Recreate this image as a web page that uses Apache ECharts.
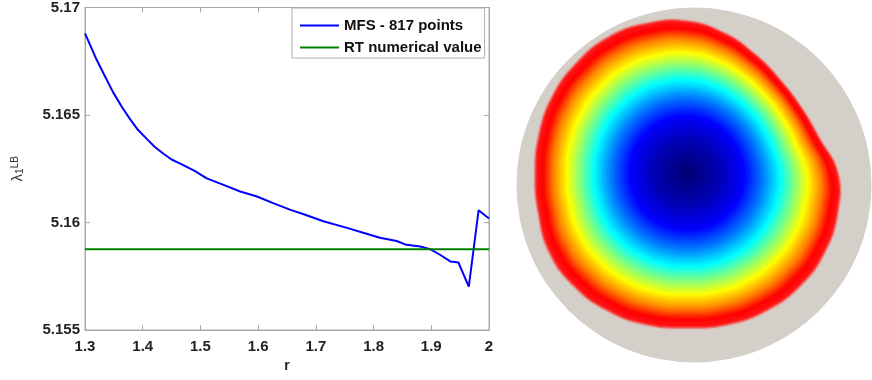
<!DOCTYPE html>
<html>
<head>
<meta charset="utf-8">
<script src="https://cdn.jsdelivr.net/npm/echarts@6/dist/echarts.min.js"></script>
<style>
  html, body { margin: 0; padding: 0; background: #fff; }
  #chart { width: 872px; height: 380px; }
</style>
</head>
<body>
<div id="chart"></div>
<script>
// left plot: lambda_1^LB against r
var rValues = [1.300, 1.309, 1.320, 1.335, 1.349, 1.364, 1.378, 1.392, 1.407, 1.421, 1.436, 1.450, 1.465, 1.490, 1.511, 1.540, 1.569, 1.598, 1.626, 1.655, 1.684, 1.713, 1.754, 1.782, 1.811, 1.840, 1.857, 1.881, 1.898, 1.915, 1.933, 1.947, 1.965, 1.982, 2.000];
var mfsValues = [5.16880, 5.16825, 5.16758, 5.16678, 5.16604, 5.16537, 5.16481, 5.16430, 5.16389, 5.16351, 5.16320, 5.16293, 5.16274, 5.16240, 5.16205, 5.16175, 5.16144, 5.16121, 5.16090, 5.16060, 5.16034, 5.16006, 5.15975, 5.15952, 5.15929, 5.15914, 5.15896, 5.15888, 5.15876, 5.15850, 5.15819, 5.15814, 5.15702, 5.16057, 5.16019];
var rtValue = 5.15876;
var seriesNames = ["MFS - 817 points", "RT numerical value"];

// right picture: outline of the coloured domain (angle in degrees, radius in px)
var boundaryAngles = [0, 15, 30, 45, 60, 75, 90, 105, 120, 135, 150, 165, 180, 195, 210, 225, 240, 255, 270, 285, 300, 315, 330, 345];
var boundaryRadii = [150, 136, 131, 131, 136, 144, 151, 154, 156, 155, 154, 152, 151, 153, 158, 159, 158, 156, 154, 156, 158, 159, 158, 155];
// colour along the radius (fraction of the outline)
var bandStops = [0, 0.22, 0.38, 0.51, 0.62, 0.71, 0.8, 0.89, 0.955, 1.0, 1.02];
var bandColors = ["#000072", "#0000b4", "#0000ff", "#0080ff", "#00ffff", "#80ff80", "#ffff00", "#ff8000", "#ff0000", "#ff1414", "#dcc0b8"];

function hexToRgb(h) {
  return [parseInt(h.substr(1, 2), 16), parseInt(h.substr(3, 2), 16), parseInt(h.substr(5, 2), 16)];
}
function colorAt(f) {
  for (var i = 1; i < bandStops.length; i++) {
    if (f <= bandStops[i]) {
      var t = (f - bandStops[i - 1]) / (bandStops[i] - bandStops[i - 1]);
      var a = hexToRgb(bandColors[i - 1]), b = hexToRgb(bandColors[i]);
      return "rgb(" + Math.round(a[0] + (b[0] - a[0]) * t) + "," + Math.round(a[1] + (b[1] - a[1]) * t) + "," + Math.round(a[2] + (b[2] - a[2]) * t) + ")";
    }
  }
  return bandColors[bandColors.length - 1];
}

var meanRadius = boundaryRadii.reduce(function (s, v) { return s + v; }, 0) / boundaryRadii.length;

// nested outlines, drawn outside in; inner ones get rounder
var levels = [];
var N = 120;
for (var i = 0; i <= N; i++) {
  levels.push(bandStops[bandStops.length - 1] * (1 - i / N));
}

var font = "Liberation Sans, Arial, sans-serif";
var mychart = echarts.init(document.getElementById("chart"));

var axisGrey = "#a8a8a8";
var option = {
  animation: false,
  grid: { left: 85, right: 383, top: 4, bottom: 50, show: true, borderColor: axisGrey, borderWidth: 1 },
  legend: {
    orient: "vertical",
    left: 292,
    top: 8,
    padding: [10, 3, 3, 8],
    itemWidth: 39,
    itemHeight: 2,
    itemGap: 7,
    borderColor: "#b0b0b0",
    borderWidth: 1,
    backgroundColor: "#fff",
    textStyle: { fontFamily: font, fontWeight: "bold", fontSize: 15, color: "#111" },
    data: [
      { name: seriesNames[0], icon: "rect" },
      { name: seriesNames[1], icon: "rect" }
    ]
  },
  xAxis: [
    {
      type: "value",
      min: 1.3,
      max: 2,
      interval: 0.1,
      name: "r",
      nameLocation: "middle",
      nameGap: 27,
      nameTextStyle: { fontFamily: font, fontSize: 14, fontWeight: "bold", color: "#222" },
      axisLine: { lineStyle: { color: axisGrey } },
      axisTick: { inside: true, length: 5, lineStyle: { color: axisGrey } },
      axisLabel: {
        margin: 9,
        fontFamily: font,
        fontWeight: "bold",
        fontSize: 15,
        color: "#222",
        formatter: function (v) { return String(+v.toFixed(1)); }
      },
      splitLine: { show: false }
    },
    {
      type: "value",
      position: "top",
      min: 1.3,
      max: 2,
      interval: 0.1,
      axisLine: { lineStyle: { color: axisGrey } },
      axisTick: { inside: true, length: 5, lineStyle: { color: axisGrey } },
      axisLabel: { show: false },
      splitLine: { show: false }
    }
  ],
  yAxis: [
    {
      type: "value",
      min: 5.155,
      max: 5.17,
      interval: 0.005,
      name: "{a|λ}{b|1}{c|LB}",
      nameLocation: "middle",
      nameGap: 60,
      nameTextStyle: {
        color: "#333",
        rich: {
          a: { fontFamily: font, fontSize: 15, color: "#333" },
          b: { fontFamily: font, fontSize: 10, color: "#333", verticalAlign: "bottom" },
          c: { fontFamily: font, fontSize: 10, color: "#333", verticalAlign: "top" }
        }
      },
      axisLine: { show: true, lineStyle: { color: axisGrey } },
      axisTick: { show: true, inside: true, length: 5, lineStyle: { color: axisGrey } },
      axisLabel: {
        margin: 5,
        fontFamily: font,
        fontWeight: "bold",
        fontSize: 15,
        color: "#222",
        formatter: function (v) { return String(+v.toFixed(3)); }
      },
      splitLine: { show: false }
    },
    {
      type: "value",
      position: "right",
      min: 5.155,
      max: 5.17,
      interval: 0.005,
      axisLine: { show: true, lineStyle: { color: axisGrey } },
      axisTick: { show: true, inside: true, length: 5, lineStyle: { color: axisGrey } },
      axisLabel: { show: false },
      splitLine: { show: false }
    }
  ],
  polar: { center: [687, 173], radius: 170 },
  angleAxis: { type: "value", min: 0, max: 360, startAngle: 0, clockwise: false, show: false },
  radiusAxis: { type: "value", min: 0, max: 170, show: false },
  graphic: [
    {
      type: "circle",
      z: -10,
      shape: { cx: 694, cy: 185, r: 177.5 },
      style: { fill: "#d4d0c9" },
      silent: true
    }
  ],
  series: [
    {
      name: seriesNames[0],
      type: "line",
      xAxisIndex: 0,
      yAxisIndex: 0,
      symbol: "none",
      lineStyle: { color: "#0000ff", width: 2 },
      itemStyle: { color: "#0000ff" },
      data: rValues.map(function (r, i) { return [r, mfsValues[i]]; })
    },
    {
      name: seriesNames[1],
      type: "line",
      xAxisIndex: 0,
      yAxisIndex: 0,
      symbol: "none",
      lineStyle: { color: "#008000", width: 2 },
      itemStyle: { color: "#008000" },
      data: [[rValues[0], rtValue], [rValues[rValues.length - 1], rtValue]]
    },
    {
      type: "custom",
      coordinateSystem: "polar",
      silent: true,
      data: levels.map(function (f) { return [f, 0]; }),
      renderItem: function (params, api) {
        var f = levels[params.dataIndex];
        var w = Math.min(1, f * f);
        var pts = boundaryAngles.map(function (a, k) {
          var rr = meanRadius + (boundaryRadii[k] - meanRadius) * w;
          return api.coord([rr * f, a]);
        });
        return {
          type: "polygon",
          shape: { points: pts, smooth: 0.45 },
          style: { fill: colorAt(f), stroke: null }
        };
      }
    }
  ]
};
mychart.setOption(option);
</script>
</body>
</html>
